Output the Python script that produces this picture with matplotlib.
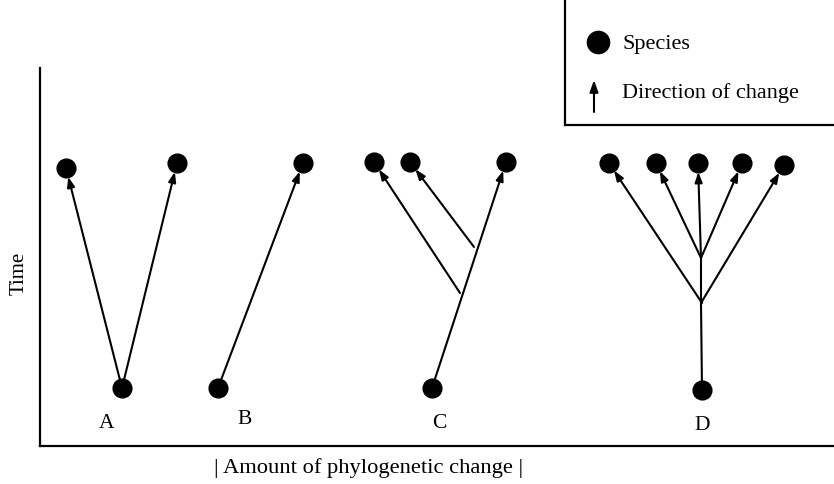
import matplotlib
matplotlib.use("Agg")
import matplotlib.pyplot as plt
from matplotlib.patches import FancyArrowPatch
from matplotlib.lines import Line2D

plt.rcParams['font.family'] = ['Liberation Serif', 'DejaVu Serif']

W, H, DPI = 834, 484, 100

# ---- data (units: amount of change on x, time on y) ----
tree_names = ["A", "B", "C", "D"]
label_x = [67, 205, 399, 662]
label_y = [23, 26, 23, 21]

# roots of each tree
root_x = [82, 178, 392, 662]
root_y = [58, 58, 58, 56]

# branches: (start_x, start_y, end_x, end_y); end is a species at the top
branch_start_x = [82, 82, 178, 392, 420, 434, 662, 661, 661, 661, 661]
branch_start_y = [58, 58, 58, 58, 153, 199, 143, 143, 188, 188, 188]
branch_end_x = [26, 137, 263, 466, 334, 370, 569, 744, 616, 658, 702]
branch_end_y = [278, 283, 283, 284, 284, 284, 283, 281, 283, 283, 283]

# plain trunk segments (no arrow)
trunk_start_x = [662, 661]
trunk_start_y = [56, 143]
trunk_end_x = [661, 661]
trunk_end_y = [143, 188]

legend_labels = ["Species", "Direction of change"]

fig = plt.figure(figsize=(W / DPI, H / DPI), dpi=DPI)

# main axes: left spine at x=40px, bottom spine at y=446px, top at 68px
left, bottom, top = 40, 446, 68
ax = fig.add_axes([left / W, (H - bottom) / H, (W - left) / W, (bottom - top) / H])
ax.set_xlim(0, W - left)
ax.set_ylim(0, bottom - top)
for s in ["top", "right"]:
    ax.spines[s].set_visible(False)
for s in ["left", "bottom"]:
    ax.spines[s].set_linewidth(1.6)
ax.set_xticks([])
ax.set_yticks([])
ax.patch.set_alpha(0)

lw = 1.5
for x0, y0, x1, y1 in zip(trunk_start_x, trunk_start_y, trunk_end_x, trunk_end_y):
    ax.plot([x0, x1], [y0, y1], color="black", lw=lw, solid_capstyle="butt")

for x0, y0, x1, y1 in zip(branch_start_x, branch_start_y, branch_end_x, branch_end_y):
    arr = FancyArrowPatch((x0, y0), (x1, y1),
                          arrowstyle="-|>,head_length=6,head_width=2.2",
                          mutation_scale=1, shrinkA=0, shrinkB=6.5,
                          color="black", lw=lw)
    ax.add_patch(arr)

# species dots
ax.plot(root_x, root_y, "o", color="black", ms=13.5, zorder=5)
ax.plot(branch_end_x, branch_end_y, "o", color="black", ms=13.5, zorder=5)

for name, x, y in zip(tree_names, label_x, label_y):
    ax.text(x, y, name, fontsize=15.5, ha="center", va="center")

fig.text(19 / W, 1 - 273 / H, "Time", rotation=90, fontsize=15,
         ha="center", va="center")
fig.text(369 / W, 1 - 468 / H, "| Amount of phylogenetic change |", fontsize=16.2,
         ha="center", va="center")

# legend box (top right, open on top and right)
fig.add_artist(Line2D([565 / W, 565 / W], [1.0, 1 - 125 / H], color="black", lw=1.6))
fig.add_artist(Line2D([565 / W, 1.0], [1 - 125 / H, 1 - 125 / H], color="black", lw=1.6))
fig.add_artist(Line2D([598 / W], [1 - 42 / H], marker="o", color="black", ms=16))
fig.add_artist(FancyArrowPatch((594 / W, 1 - 112 / H), (594 / W, 1 - 80 / H),
                               transform=fig.transFigure,
                               arrowstyle="-|>,head_length=7,head_width=2.5",
                               mutation_scale=1, shrinkA=0, shrinkB=0,
                               color="black", lw=1.5))
fig.text(622 / W, 1 - 44 / H, legend_labels[0], fontsize=16, ha="left", va="center")
fig.text(622 / W, 1 - 93 / H, legend_labels[1], fontsize=16, ha="left", va="center")

fig.savefig("out.png", dpi=DPI)
